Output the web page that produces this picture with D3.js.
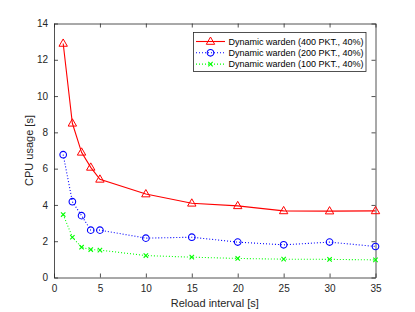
<!DOCTYPE html>
<html>
<head>
<meta charset="utf-8">
<script src="https://cdn.jsdelivr.net/npm/d3@7"></script>
<style>
  body { margin: 0; background: #fff; }
  svg { display: block; font-family: Arial, "Liberation Sans", Helvetica, sans-serif; }
</style>
</head>
<body>
<script>
// reload intervals [s]
var intervals = [1, 2, 3, 4, 5, 10, 15, 20, 25, 30, 35];
var cpu400 = [12.9, 8.5, 6.9, 6.07, 5.41, 4.6, 4.09, 3.95, 3.67, 3.66, 3.67];
var cpu200 = [6.77, 4.18, 3.41, 2.61, 2.61, 2.17, 2.22, 1.95, 1.8, 1.95, 1.71];
var cpu100 = [3.47, 2.22, 1.67, 1.54, 1.51, 1.21, 1.12, 1.05, 1.01, 1.0, 0.97];
var seriesNames = ["Dynamic warden (400 PKT., 40%)", "Dynamic warden (200 PKT., 40%)", "Dynamic warden (100 PKT., 40%)"];
var xTicks = [0, 5, 10, 15, 20, 25, 30, 35];
var yTicks = [0, 2, 4, 6, 8, 10, 12, 14];

var width = 415, height = 312;
var padding = {top: 23.5, right: 39.5, bottom: 34.5, left: 54};
var axisColor = "#262626";

var svg = d3.select("body").append("svg")
    .attr("width", width)
    .attr("height", height);

var xScale = d3.scaleLinear().domain([0, 35]).range([padding.left, width - padding.right]);
var yScale = d3.scaleLinear().domain([0, 14]).range([height - padding.bottom, padding.top]);

var series = [
  {name: seriesNames[0], values: cpu400, color: "#ff0000", dash: null, marker: "triangle"},
  {name: seriesNames[1], values: cpu200, color: "#0000ff", dash: "1,2", marker: "circle"},
  {name: seriesNames[2], values: cpu100, color: "#00ff00", dash: "1,2", marker: "cross"}
];

// axes, ticks pointing inward, box all round
var xAxis = d3.axisBottom(xScale).tickValues(xTicks).tickSizeInner(-4).tickSizeOuter(0).tickPadding(7);
var yAxis = d3.axisLeft(yScale).tickValues(yTicks).tickSizeInner(-4).tickSizeOuter(0).tickPadding(6);
var xAxisTop = d3.axisTop(xScale).tickValues(xTicks).tickSizeInner(-4).tickSizeOuter(0).tickFormat("");
var yAxisRight = d3.axisRight(yScale).tickValues(yTicks).tickSizeInner(-4).tickSizeOuter(0).tickFormat("");

function styleAxis(g) {
  g.select(".domain").attr("stroke", axisColor).attr("stroke-width", 0.8);
  g.selectAll(".tick line").attr("stroke", axisColor).attr("stroke-width", 0.8);
  g.selectAll(".tick text").attr("fill", axisColor).style("font-size", "10px");
}

svg.append("g").attr("transform", "translate(0," + yScale(0) + ")").call(xAxis).call(styleAxis);
svg.append("g").attr("transform", "translate(" + xScale(0) + ",0)").call(yAxis).call(styleAxis);
svg.append("g").attr("transform", "translate(0," + yScale(14) + ")").call(xAxisTop).call(styleAxis);
svg.append("g").attr("transform", "translate(" + xScale(35) + ",0)").call(yAxisRight).call(styleAxis);

// axis labels
svg.append("text")
    .attr("x", (xScale(0) + xScale(35)) / 2)
    .attr("y", height - 5)
    .attr("text-anchor", "middle")
    .attr("fill", axisColor)
    .style("font-size", "11px")
    .text("Reload interval [s]");

svg.append("text")
    .attr("transform", "translate(33," + (yScale(0) + yScale(14)) / 2 + ") rotate(-90)")
    .attr("text-anchor", "middle")
    .attr("fill", axisColor)
    .style("font-size", "11px")
    .text("CPU usage [s]");

function drawMarker(g, type, color) {
  if (type === "triangle") {
    g.append("path").attr("d", "M0,-4.5L4.2,2.8L-4.2,2.8Z")
      .attr("fill", "none").attr("stroke", color).attr("stroke-width", 1);
  } else if (type === "circle") {
    g.append("circle").attr("r", 3.3)
      .attr("fill", "none").attr("stroke", color).attr("stroke-width", 1.1);
  } else {
    g.append("path").attr("d", "M-2.2,-2.2L2.2,2.2M-2.2,2.2L2.2,-2.2")
      .attr("fill", "none").attr("stroke", color).attr("stroke-width", 1.1);
  }
}

var line = d3.line()
    .x(function(d) { return xScale(d[0]); })
    .y(function(d) { return yScale(d[1]); });

series.forEach(function(s) {
  var pts = intervals.map(function(x, i) { return [x, s.values[i]]; });
  svg.append("path")
      .datum(pts)
      .attr("d", line)
      .attr("fill", "none")
      .attr("stroke", s.color)
      .attr("stroke-width", 1.1)
      .attr("stroke-dasharray", s.dash);
  svg.selectAll(null)
      .data(pts)
      .join("g")
      .attr("transform", function(d) { return "translate(" + xScale(d[0]) + "," + yScale(d[1]) + ")"; })
      .each(function() { drawMarker(d3.select(this), s.marker, s.color); });
});

// legend
var legend = svg.append("g");
legend.append("rect")
    .attr("x", 193.5).attr("y", 32.5)
    .attr("width", 172.5).attr("height", 39)
    .attr("fill", "#fff")
    .attr("stroke", axisColor)
    .attr("stroke-width", 0.8);

series.forEach(function(s, i) {
  var cy = 41.5 + i * 11.3;
  legend.append("line")
      .attr("x1", 196).attr("x2", 225)
      .attr("y1", cy).attr("y2", cy)
      .attr("stroke", s.color)
      .attr("stroke-width", 1.1)
      .attr("stroke-dasharray", s.dash);
  drawMarker(legend.append("g").attr("transform", "translate(210.5," + cy + ")"), s.marker, s.color);
  legend.append("text")
      .attr("x", 228.5)
      .attr("y", cy)
      .attr("dy", "0.35em")
      .attr("fill", "#000")
      .style("font-size", "9px")
      .text(s.name);
});
</script>
</body>
</html>
